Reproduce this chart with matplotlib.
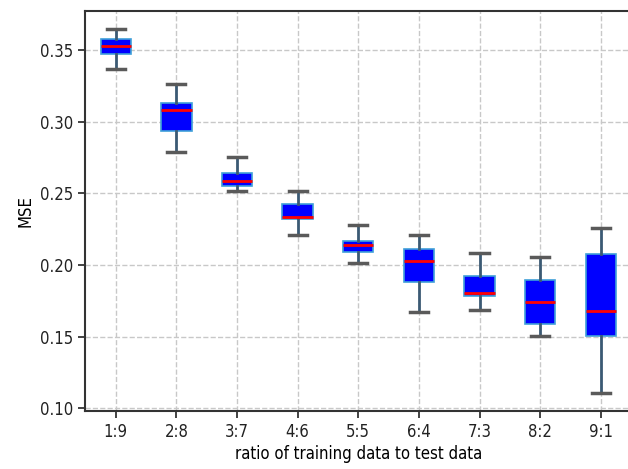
import matplotlib
matplotlib.use("Agg")
import matplotlib.pyplot as plt

# values
ratios = ["1:9", "2:8", "3:7", "4:6", "5:5", "6:4", "7:3", "8:2", "9:1"]
whis_low = [0.3366, 0.2790, 0.2517, 0.2212, 0.2017, 0.1674, 0.1686, 0.1507, 0.1110]
q1 = [0.3474, 0.2936, 0.2551, 0.2324, 0.2092, 0.1885, 0.1781, 0.1588, 0.1502]
medians = [0.3526, 0.3078, 0.2588, 0.2333, 0.2143, 0.2027, 0.1807, 0.1744, 0.1681]
q3 = [0.3579, 0.3131, 0.2642, 0.2426, 0.2168, 0.2115, 0.1925, 0.1897, 0.2080]
whis_high = [0.3646, 0.3263, 0.2753, 0.2519, 0.2277, 0.2212, 0.2085, 0.2057, 0.2261]

stats = []
for lab, lo, a, m, b, hi in zip(ratios, whis_low, q1, medians, q3, whis_high):
    stats.append({"label": lab, "whislo": lo, "q1": a, "med": m, "q3": b,
                  "whishi": hi, "fliers": []})

plt.rcParams["font.size"] = 12

fig = plt.figure(figsize=(6.28, 4.69), dpi=100)
ax = fig.add_axes([0.136, 0.124, 0.869, 0.853])

ax.bxp(stats, widths=0.5, capwidths=0.3, patch_artist=True,
       boxprops=dict(facecolor="#0000ff", edgecolor="#3fa0d8", linewidth=1.2),
       medianprops=dict(color="#ff0000", linewidth=2),
       whiskerprops=dict(color="#3b5a74", linewidth=2),
       capprops=dict(color="#5a5a5a", linewidth=2.5))

ax.grid(True, linestyle="--", color="#c8c8c8", linewidth=1)
ax.set_axisbelow(True)
for sp in ax.spines.values():
    sp.set_color("#333333")
    sp.set_linewidth(1.5)

ax.set_yticks([0.10, 0.15, 0.20, 0.25, 0.30, 0.35])
ax.tick_params(colors="#222222", length=5, width=1.2)
for lbl in ax.get_xticklabels() + ax.get_yticklabels():
    lbl.set_fontstretch("condensed")

ax.set_ylabel("MSE", fontstretch="condensed")
ax.set_xlabel("ratio of training data to test data", fontstretch="condensed", labelpad=3)

plt.savefig("out.png", dpi=100)
